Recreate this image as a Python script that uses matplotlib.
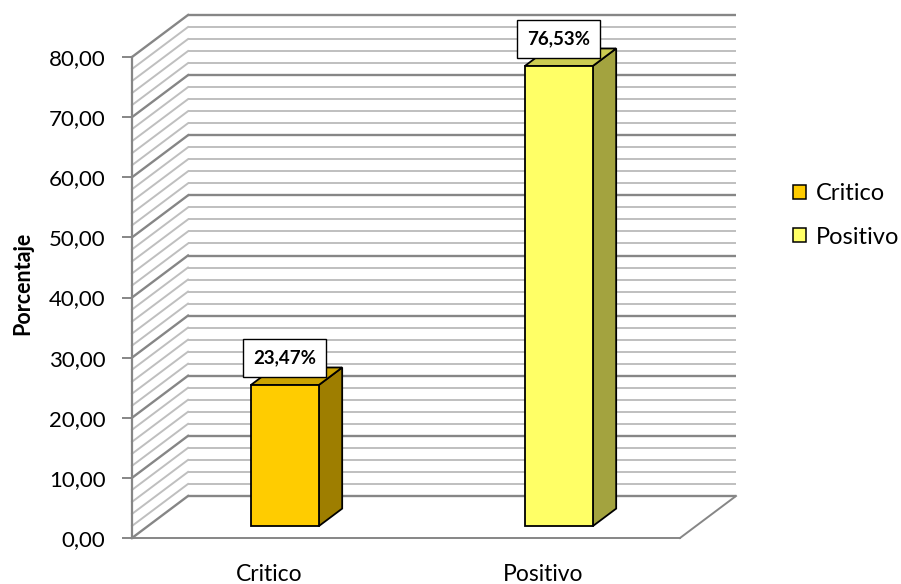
import matplotlib
matplotlib.use("Agg")
import matplotlib.pyplot as plt
from matplotlib.patches import Polygon, Patch
from matplotlib.ticker import FuncFormatter

plt.rcParams['font.family'] = ['Lato', 'DejaVu Sans']

# Data
categories = ["Critico", "Positivo"]
values = [23.47, 76.53]
value_labels = ["23,47%", "76,53%"]
y_ticks = [0, 10, 20, 30, 40, 50, 60, 70, 80]

# Colours per series: front, top, side
front_colors = ["#FFCC00", "#FFFF66"]
top_colors = ["#CCA300", "#CCCC52"]
side_colors = ["#9E7E00", "#A3A33F"]

# 3D projection parameters (depth offset in data units)
DX = 56 / 274.0       # horizontal shift of the back wall, in category units
DY = 42 / 6.0125      # vertical shift of the back wall, in value units
D0, D1 = 0.28, 0.70   # bar depth extent (fraction of the full depth)
BAR_W = 0.248

fig = plt.figure(figsize=(9.01, 5.84), dpi=100)
ax = fig.add_axes([132 / 901, 46 / 584, 548 / 901, 481 / 584])
ax.set_xlim(0, 2)
ax.set_ylim(0, 80)
ax.patch.set_visible(False)

# Walls: back-wall horizontals and left-wall diagonals every 2 units
for v in range(0, 81, 2):
    major = v % 10 == 0
    col = "#868686" if major else "#BFBFBF"
    lw = 1.7 if major else 1.4
    ax.plot([DX, 2 + DX], [v + DY, v + DY], color=col, lw=lw, clip_on=False, zorder=1,
            solid_capstyle="butt")
    ax.plot([0, DX], [v, v + DY], color=col, lw=lw, clip_on=False, zorder=1)

# Floor right edge
ax.plot([2, 2 + DX], [0, DY], color="#868686", lw=1.4, clip_on=False, zorder=1)

# Bars
for i, (cat, v) in enumerate(zip(categories, values)):
    c = i + 0.5
    xl, xr = c - BAR_W / 2, c + BAR_W / 2
    front = [(xl + D0 * DX, D0 * DY), (xr + D0 * DX, D0 * DY),
             (xr + D0 * DX, v + D0 * DY), (xl + D0 * DX, v + D0 * DY)]
    side = [(xr + D0 * DX, D0 * DY), (xr + D1 * DX, D1 * DY),
            (xr + D1 * DX, v + D1 * DY), (xr + D0 * DX, v + D0 * DY)]
    top = [(xl + D0 * DX, v + D0 * DY), (xr + D0 * DX, v + D0 * DY),
           (xr + D1 * DX, v + D1 * DY), (xl + D1 * DX, v + D1 * DY)]
    for pts, fc in ((side, side_colors[i]), (top, top_colors[i]), (front, front_colors[i])):
        ax.add_patch(Polygon(pts, closed=True, facecolor=fc, edgecolor="black",
                             lw=1.3, joinstyle="miter", clip_on=False, zorder=3))
    ax.annotate(value_labels[i], xy=(c + D0 * DX, v + D0 * DY), xytext=(0, 19.5),
                textcoords="offset points", ha="center", va="center",
                fontsize=13.5, fontweight="bold", zorder=5,
                bbox=dict(boxstyle="square,pad=0.55", facecolor="white",
                          edgecolor="black", lw=1.0))

# Axes styling
for side_name in ("top", "right"):
    ax.spines[side_name].set_visible(False)
ax.spines["left"].set_color("#868686")
ax.spines["left"].set_linewidth(1.6)
ax.spines["bottom"].set_color("#868686")
ax.spines["bottom"].set_linewidth(1.4)
ax.set_yticks(y_ticks)
ax.yaxis.set_major_formatter(FuncFormatter(lambda v, p: f"{v:.2f}".replace(".", ",")))
ax.tick_params(axis="y", direction="out", length=7, width=1.4, color="#868686",
               pad=12, labelsize=16)
ax.set_xticks([0.5, 1.5])
ax.set_xticklabels(categories)
ax.tick_params(axis="x", length=0, pad=19, labelsize=16.5)

fig.text(23 / 901, 1 - 283 / 584, "Porcentaje", rotation=90, ha="center", va="center",
         fontsize=15.5, fontweight="bold")

handles = [Patch(facecolor=front_colors[i], edgecolor="black", lw=1.1) for i in range(2)]
fig.legend(handles, categories, loc="center left",
           bbox_to_anchor=(793 / 901, 1 - 215.5 / 584), frameon=False,
           fontsize=17, handlelength=0.55, handleheight=0.55, handletextpad=0.4,
           labelspacing=0.95, borderpad=0, borderaxespad=0)

fig.savefig("out.png", dpi=100)
